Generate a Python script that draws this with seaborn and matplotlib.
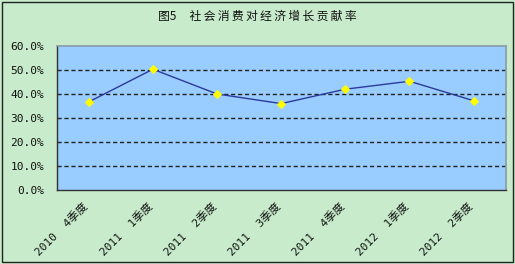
import matplotlib
matplotlib.use("Agg")
import matplotlib.pyplot as plt
import seaborn as sns
import pandas as pd
import numpy as np
from matplotlib.ticker import FixedLocator, PercentFormatter
from matplotlib.transforms import ScaledTranslation

categories = ["2010  4季度", "2011  1季度", "2011  2季度", "2011  3季度",
              "2011  4季度", "2012  1季度", "2012  2季度"]
values = [36.7, 50.3, 40.0, 36.0, 42.0, 45.3, 37.2]
yticks = [0, 10, 20, 30, 40, 50, 60]
title = "图5     " + "\u2009".join("社会消费对经济增长贡献率")

sns.set_theme(style="white")
plt.rcParams['font.family'] = ['Noto Sans CJK SC', 'DejaVu Sans']
mono = ['DejaVu Sans Mono', 'Noto Sans CJK SC']

df = pd.DataFrame({"idx": np.arange(len(categories)), "value": values})

fig = plt.figure(figsize=(5.15, 2.64), dpi=100)
fig.patch.set_facecolor("#C8ECCB")
ax = fig.add_axes([0.110, 0.280, 0.872, 0.546])
ax.set_facecolor("#99CCFF")

sns.lineplot(data=df, x="idx", y="value", ax=ax, color="#2B3A9C", linewidth=1.0,
             marker="D", markersize=4, markerfacecolor="#FFFF00",
             markeredgecolor="#FFFF00", zorder=3)

ax.set_xlim(-0.5, len(categories) - 0.5)
ax.set_ylim(0, 60)
ax.set_yticks(yticks)
ax.yaxis.set_major_formatter(PercentFormatter(decimals=1))
for t in yticks[1:-1]:
    ax.axhline(t, color="#222222", linestyle=(0, (3, 2)), linewidth=1.0, zorder=1)

ax.set_xticks(np.arange(len(categories)))
ax.set_xticklabels([])
shift = ScaledTranslation(-0.06, -0.11, fig.dpi_scale_trans)
for i, lab in enumerate(categories):
    ax.text(i, 0, lab, transform=ax.get_xaxis_transform() + shift,
            rotation=45, ha="right", va="top", rotation_mode="anchor",
            fontsize=8, family=mono, color="#111111")
ax.xaxis.set_minor_locator(FixedLocator(np.arange(0.5, len(categories) - 0.5, 1)))
ax.tick_params(axis="x", which="major", length=0)
ax.tick_params(axis="x", which="minor", length=3, direction="in", color="#333333", width=0.8)
ax.tick_params(axis="y", length=0, labelsize=8, pad=9, labelcolor="#111111")
for lab in ax.get_yticklabels():
    lab.set_family(mono)
ax.set_xlabel("")
ax.set_ylabel("")

for s in ["left", "bottom"]:
    ax.spines[s].set_color("#333333")
    ax.spines[s].set_linewidth(1.0)
for s in ["top", "right"]:
    ax.spines[s].set_color("#8a9aa8")
    ax.spines[s].set_linewidth(1.2)

fig.text(0.5, 0.94, title, ha="center", va="center", fontsize=8.5, color="#111111")

border = plt.Rectangle((0.004, 0.006), 0.992, 0.988, transform=fig.transFigure,
                       fill=False, edgecolor="#222222", linewidth=1.0)
fig.patches.append(border)

fig.savefig("out.png", dpi=100, facecolor=fig.get_facecolor())
